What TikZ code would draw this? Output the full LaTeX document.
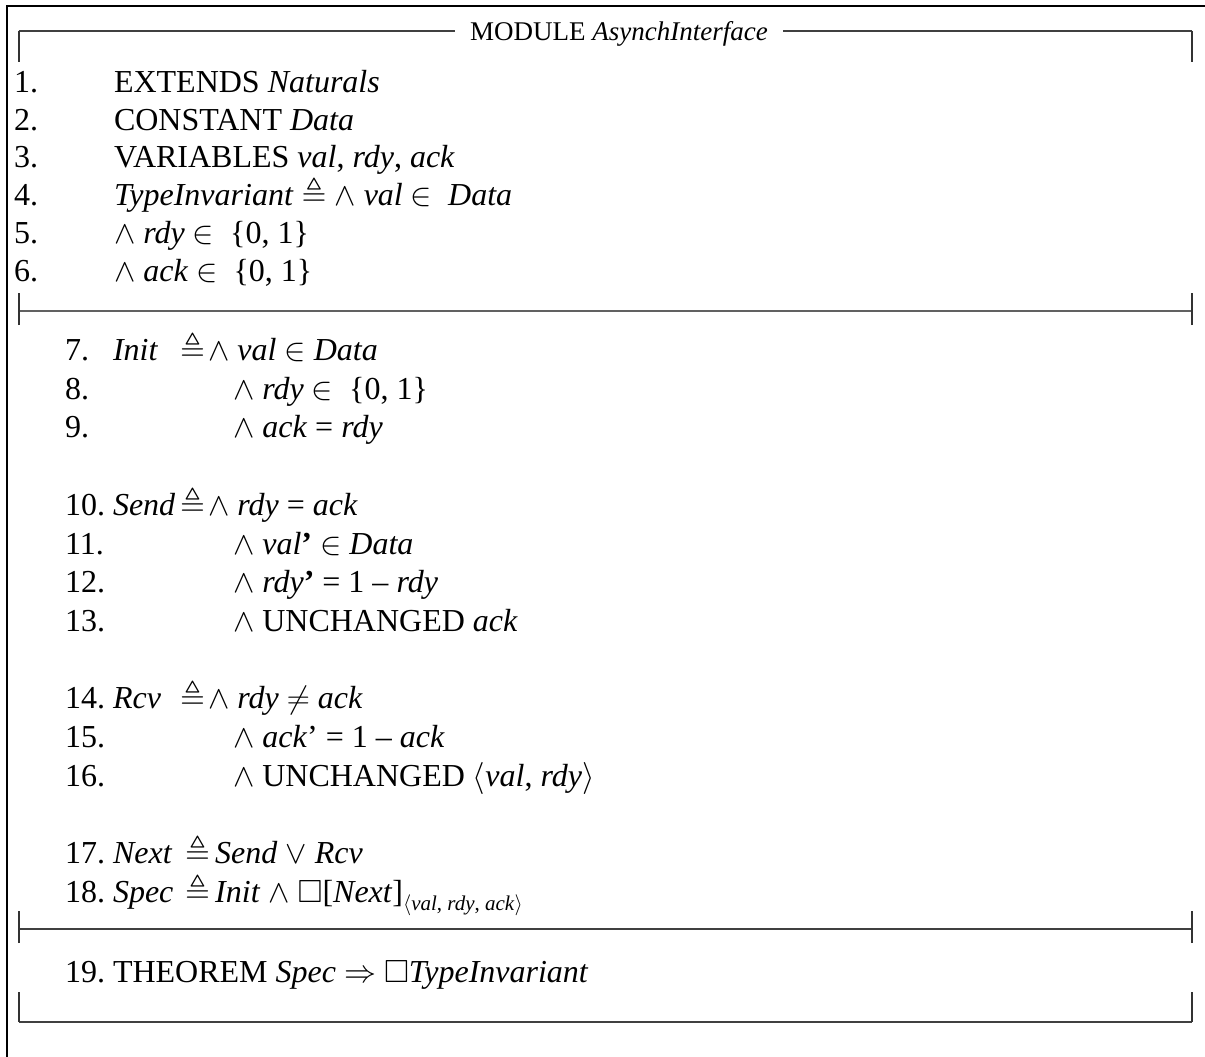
\RequirePackage{fix-cm}
\documentclass[tikz,border=0pt]{standalone}
\usepackage{amsmath}
\usepackage{amssymb}
\usepackage{fontspec}
\setmainfont{Liberation Serif}
\newcommand{\tdef}{\ensuremath{\triangleq}}
\newcommand{\tand}{\ensuremath{\wedge}}
\newcommand{\tor}{\ensuremath{\vee}}
\newcommand{\tin}{\ensuremath{\in}}
\newcommand{\tne}{\ensuremath{\neq}}
\newcommand{\timp}{\ensuremath{\Rightarrow}}
\newcommand{\tbox}{\ensuremath{\square}}
\begin{document}
\begin{tikzpicture}[x=1pt,y=-1pt,
  rule/.style={line width=1.5pt, draw=black!75},
  grule/.style={line width=2pt, draw=black!62},
  tick/.style={line width=2pt, draw=black!80},
  frame/.style={line width=1.6pt, draw=black},
  txt/.style={anchor=base west, inner sep=0pt, outer sep=0pt, font=\fontsize{32}{38}\selectfont},
  ttl/.style={anchor=base, inner xsep=15pt, inner ysep=0pt, font=\fontsize{27}{32}\selectfont}
]
\useasboundingbox (0,0) rectangle (1205,1057);

% outer page frame: only its top and left edges lie inside
\draw[frame] (1205,6) -- (7,6) -- (7,1057);

% module heading
\coordinate (tl) at (18.5,31);
\coordinate (tr) at (1192,31);
\node[ttl] (title) at (619,40.5) {MODULE \textit{AsynchInterface}};
\draw[rule] (tl) -- (tl -| title.west);
\draw[rule] (tl -| title.east) -- (tr);
\draw[tick] (tl) -- ++(0,31);
\draw[tick] (tr) -- ++(0,31);

% first separator
\coordinate (sal) at (18.5,311);
\coordinate (sar) at (1192,311);
\draw[grule] (sal) -- (sar);
\draw[tick] ([yshift=-14pt]sal) -- ([yshift=18pt]sal);
\draw[tick] ([yshift=-14pt]sar) -- ([yshift=18pt]sar);

% second separator
\coordinate (sbl) at (18.5,929);
\coordinate (sbr) at (1192,929);
\draw[rule] (sbl) -- (sbr);
\draw[tick] ([yshift=-14pt]sbl) -- ([yshift=18pt]sbl);
\draw[tick] ([yshift=-14pt]sbr) -- ([yshift=18pt]sbr);

% closing rule
\coordinate (bl) at (18.5,1022);
\coordinate (br) at (1192,1022);
\draw[rule] (bl) -- (br);
\draw[tick] (bl) -- ++(0,-30);
\draw[tick] (br) -- ++(0,-30);

% declarations
\node[txt] (n1) at (14,92.5) {1.};
\node[txt] (l1) at (114,92.5) {EXTENDS \textit{Naturals}};
\node[txt] (n2) at (14,130.2) {2.};
\node[txt] (l2) at (114,130.2) {CONSTANT \textit{Data}};
\node[txt] (n3) at (14,167.9) {3.};
\node[txt] (l3) at (114,167.9) {VARIABLES \textit{val}, \textit{rdy}, \textit{ack}};
\node[txt] (n4) at (14,205.6) {4.};
\node[txt] (l4) at (114,205.6) {\textit{TypeInvariant} \tdef{} \tand{} \textit{val} \tin{}~ \textit{Data}};
\node[txt] (n5) at (14,243.3) {5.};
\node[txt] (l5) at (114,243.3) {\tand{} \textit{rdy} \tin{}~ \{0, 1\}};
\node[txt] (n6) at (14,281) {6.};
\node[txt] (l6) at (114,281) {\tand{} \textit{ack} \tin{}~ \{0, 1\}};

% Init
\node[txt] (n7) at (65,360.5) {7.};
\node[txt] (d7) at (113,360.5) {\textit{Init}};
\node[txt] (e7) at (180,360.5) {\tdef};
\node[txt] (l7) at (208,360.5) {\tand{} \textit{val} \tin{} \textit{Data}};
\node[txt] (n8) at (65,399.2) {8.};
\node[txt] (l8) at (233,399.2) {\tand{} \textit{rdy} \tin{}~ \{0, 1\}};
\node[txt] (n9) at (65,437.9) {9.};
\node[txt] (l9) at (233,437.9) {\tand{} \textit{ack} = \textit{rdy}};

% Send
\node[txt] (n10) at (65,515.3) {10.};
\node[txt] (d10) at (113,515.3) {\textit{Send}};
\node[txt] (e10) at (180,515.3) {\tdef};
\node[txt] (l10) at (208,515.3) {\tand{} \textit{rdy} = \textit{ack}};
\node[txt] (n11) at (65,554) {11.};
\node[txt] (l11) at (233,554) {\tand{} \textit{val}\textbf{’} \tin{} \textit{Data}};
\node[txt] (n12) at (65,592.7) {12.};
\node[txt] (l12) at (233,592.7) {\tand{} \textit{rdy}\textbf{’} = 1 – \textit{rdy}};
\node[txt] (n13) at (65,631.4) {13.};
\node[txt] (l13) at (233,631.4) {\tand{} UNCHANGED \textit{ack}};

% Rcv
\node[txt] (n14) at (65,708.8) {14.};
\node[txt] (d14) at (113,708.8) {\textit{Rcv}};
\node[txt] (e14) at (180,708.8) {\tdef};
\node[txt] (l14) at (208,708.8) {\tand{} \textit{rdy} \tne{} \textit{ack}};
\node[txt] (n15) at (65,747.5) {15.};
\node[txt] (l15) at (233,747.5) {\tand{} \textit{ack}’ = 1 – \textit{ack}};
\node[txt] (n16) at (65,786.2) {16.};
\node[txt] (l16) at (233,786.2) {\tand{} UNCHANGED $\langle$\textit{val}, \textit{rdy}$\rangle$};

% Next and Spec
\node[txt] (n17) at (65,863.6) {17.};
\node[txt] (d17) at (113,863.6) {\textit{Next}};
\node[txt] (l17) at (185,863.6) {\tdef\,\textit{Send} \tor{} \textit{Rcv}};
\node[txt] (n18) at (65,902.3) {18.};
\node[txt] (d18) at (113,902.3) {\textit{Spec}};
\node[txt] (l18) at (185,902.3) {\tdef\,\textit{Init} \tand{} \tbox[\textit{Next}]\raisebox{-0.25em}{\fontsize{21}{24}\selectfont$\langle$\textit{val}, \textit{rdy}, \textit{ack}$\rangle$}};

% theorem
\node[txt] (n19) at (65,982.5) {19.};
\node[txt] (l19) at (113,982.5) {THEOREM \textit{Spec} \timp{} \tbox\textit{TypeInvariant}};
\end{tikzpicture}
\end{document}
